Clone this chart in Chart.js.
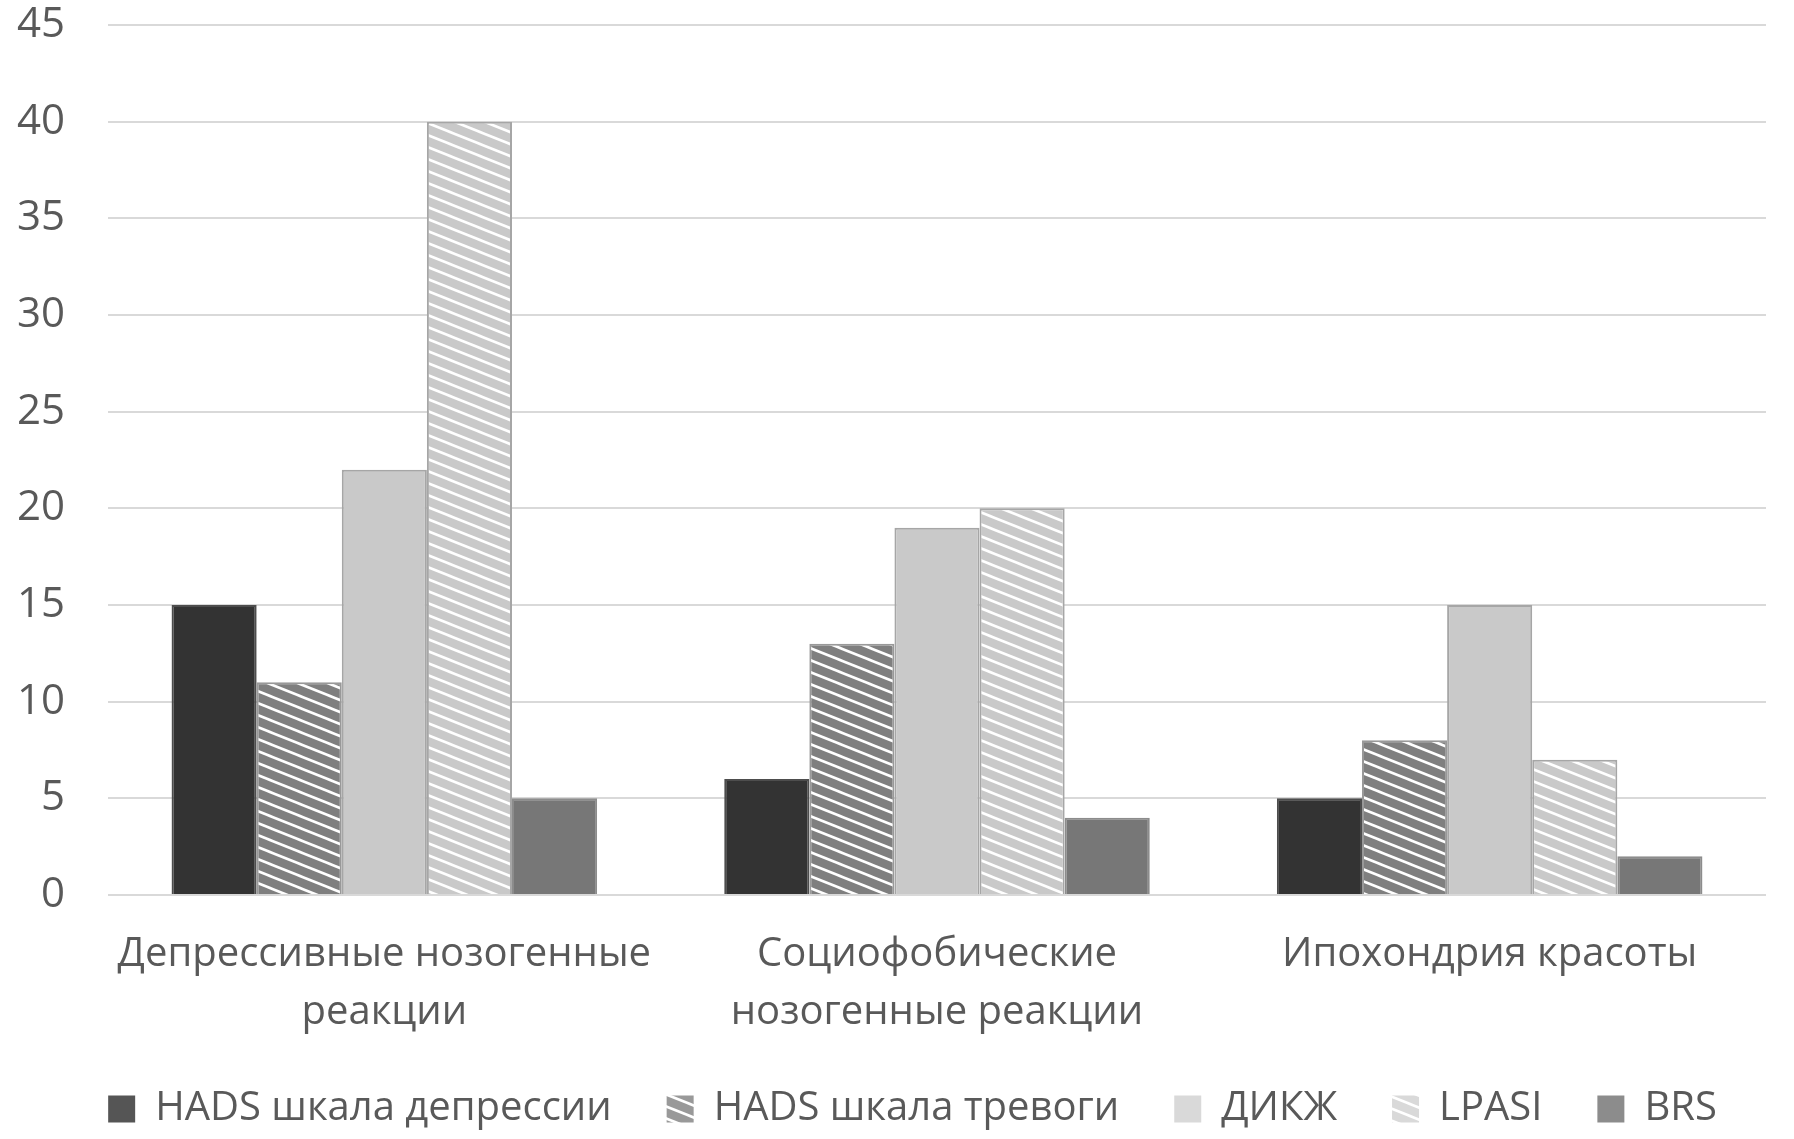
<!DOCTYPE html>
<html>
<head>
<meta charset="utf-8">
<script src="https://cdn.jsdelivr.net/npm/chart.js@4.4.1/dist/chart.umd.min.js"></script>
<style>
    body { margin: 0; background: #ffffff; }
    #chart { display: block; }
</style>
</head>
<body>
<canvas id="chart" width="1794" height="1139"></canvas>
<script>
// Chart data
const categories = [
    ['Депрессивные нозогенные', 'реакции'],
    ['Социофобические', 'нозогенные реакции'],
    'Ипохондрия красоты'
];
const seriesNames = ['HADS шкала депрессии', 'HADS шкала тревоги', 'ДИКЖ', 'LPASI', 'BRS'];
const hadsDepression = [15, 6, 5];
const hadsAnxiety = [11, 13, 8];
const dikzh = [22, 19, 15];
const lpasi = [40, 20, 7];
const brs = [5, 4, 2];
const yTicks = [0, 5, 10, 15, 20, 25, 30, 35, 40, 45];

const ctx = document.getElementById('chart').getContext('2d');

// White diagonal stripes on a base colour
function makeHatch(base) {
    const tile = document.createElement('canvas');
    tile.width = 30;
    tile.height = 12;
    const c = tile.getContext('2d');
    c.fillStyle = base;
    c.fillRect(0, 0, 30, 12);
    c.strokeStyle = '#ffffff';
    c.lineWidth = 2.6;
    for (let off = -12; off <= 12; off += 12) {
        c.beginPath();
        c.moveTo(-3, off - 1.2);
        c.lineTo(33, off + 13.2);
        c.stroke();
    }
    return ctx.createPattern(tile, 'repeat');
}

const textColor = '#595959';
const fontFamily = '"Open Sans", "Noto Sans", sans-serif';

// legend swatches are a little lighter than the bars
const legendFills = ['#555555', makeHatch('#999999'), '#d9d9d9', makeHatch('#d9d9d9'), '#8c8c8c'];

// the legend sits a bit right of the plot's centre in the original
const legendNudge = {
    id: 'legendNudge',
    afterLayout(chart) {
        chart.legend.left += 21;
        chart.legend.right += 21;
    }
};

new Chart(ctx, {
    type: 'bar',
    data: {
        labels: categories,
        datasets: [
            { label: seriesNames[0], data: hadsDepression, backgroundColor: '#333333', borderColor: '#4d4d4d' },
            { label: seriesNames[1], data: hadsAnxiety, backgroundColor: makeHatch('#7f7f7f'), borderColor: '#999999' },
            { label: seriesNames[2], data: dikzh, backgroundColor: '#c9c9c9', borderColor: '#a6a6a6' },
            { label: seriesNames[3], data: lpasi, backgroundColor: makeHatch('#c9c9c9'), borderColor: '#a6a6a6' },
            { label: seriesNames[4], data: brs, backgroundColor: '#777777', borderColor: '#8c8c8c' }
        ]
    },
    plugins: [legendNudge],
    options: {
        responsive: false,
        animation: false,
        devicePixelRatio: 1,
        layout: { padding: { left: 17, right: 28, top: 0, bottom: 0 } },
        datasets: {
            bar: { categoryPercentage: 0.77, barPercentage: 1, borderWidth: 2 }
        },
        plugins: {
            tooltip: { enabled: false },
            legend: {
                position: 'bottom',
                labels: {
                    color: textColor,
                    font: { family: fontFamily, size: 40 },
                    boxWidth: 27,
                    boxHeight: 27,
                    padding: 55,
                    generateLabels: chart => {
                        const items = Chart.defaults.plugins.legend.labels.generateLabels(chart);
                        items.forEach((item, i) => {
                            item.fillStyle = legendFills[i];
                            item.strokeStyle = 'rgba(0,0,0,0)';
                            item.lineWidth = 0;
                        });
                        return items;
                    }
                }
            }
        },
        scales: {
            x: {
                grid: { display: false },
                border: { display: false },
                afterFit: axis => { axis.height = 139; },
                ticks: {
                    color: textColor,
                    font: { family: fontFamily, size: 40, lineHeight: 1.45 },
                    padding: 23,
                    maxRotation: 0,
                    autoSkip: false
                }
            },
            y: {
                min: 0,
                max: 45,
                afterBuildTicks: axis => { axis.ticks = yTicks.map(v => ({ value: v })); },
                afterFit: axis => { axis.width = 91; axis.paddingTop = 25; axis.paddingBottom = 25; },
                grid: { color: '#d9d9d9', lineWidth: 2, drawTicks: false },
                border: { display: false },
                ticks: {
                    color: textColor,
                    font: { family: fontFamily, size: 42 },
                    padding: 43
                }
            }
        }
    }
});
</script>
</body>
</html>
